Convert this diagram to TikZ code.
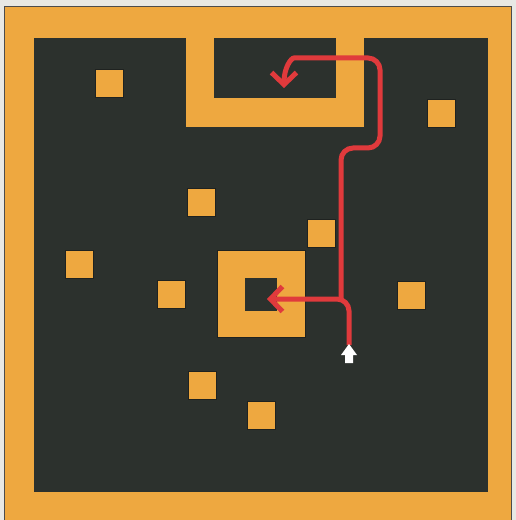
\documentclass[tikz,border=0pt]{standalone}
\usepackage{xcolor}
\usepackage{tikz}
\usetikzlibrary{arrows.meta}
\definecolor{mazeorange}{RGB}{238, 168, 64}
\definecolor{mazedark}{RGB}{44, 49, 45}
\definecolor{pathred}{RGB}{224, 58, 60}
\definecolor{paper}{RGB}{232, 232, 228}
\tikzstyle{block} = [
    rectangle,
    minimum size=0.56cm,
    inner sep=0pt,
    fill=mazeorange,
    draw=mazedark!70!black,
    line width=0.3pt
]
\tikzstyle{route} = [
    line width=1mm,
    color=pathred,
    rounded corners=0.24cm,
    -{Straight Barb[length=2.4mm, width=5mm]}
]

\begin{document}
\begin{tikzpicture}[x=0.02cm, y=-0.02cm]
        \useasboundingbox (0,0) rectangle (516,520);
        \fill[paper] (0,0) rectangle (516,520);

        % Frame and floor
        \filldraw[fill=mazeorange, draw=gray!60!black, line width=0.6pt] (4.5,6.5) rectangle (511.5,530);
        \fill[mazedark] (34,38) rectangle (488,492);

        % U-shaped wall at the top
        \fill[mazeorange] (186,30) rectangle (364,127);
        \fill[mazedark] (214,38) rectangle (336,98);

        % Blocks
        \node[block] (b1) at (109.5, 83) {};
        \node[block] (b2) at (441.5, 113) {};
        \node[block] (b3) at (201, 202) {};
        \node[block] (b4) at (321.5, 233.5) {};
        \node[block] (b5) at (79, 264) {};
        \node[block] (b6) at (171.5, 294) {};
        \node[block] (b7) at (411, 295) {};
        \node[block] (b8) at (202, 385) {};
        \node[block] (b9) at (261.5, 415.5) {};

        % Central square with its hole
        \node[block, minimum size=1.75cm] (hub) at (261.5, 294) {};
        \node[rectangle, fill=mazedark, minimum size=0.65cm, inner sep=0pt] (hole) at (261, 294.5) {};

        % Routes
        \coordinate (start) at (349, 345);
        \coordinate (goal) at (267, 299);
        \coordinate (fork) at (341, 299);
        \coordinate (exit) at (284, 88);
        \draw[route] (fork) -- (341,148) -- (380,148) -- (380,58) -- (306,58)
            [sharp corners] .. controls (291,58) and (284,68) .. (exit);
        \draw[route] (start) |- (goal);

        % Marker
        \fill[white] (349,344) -- (357,355) -- (353,355) -- (353,363) -- (345,363) -- (345,355) -- (341,355) -- cycle;
    \end{tikzpicture}
\end{document}
